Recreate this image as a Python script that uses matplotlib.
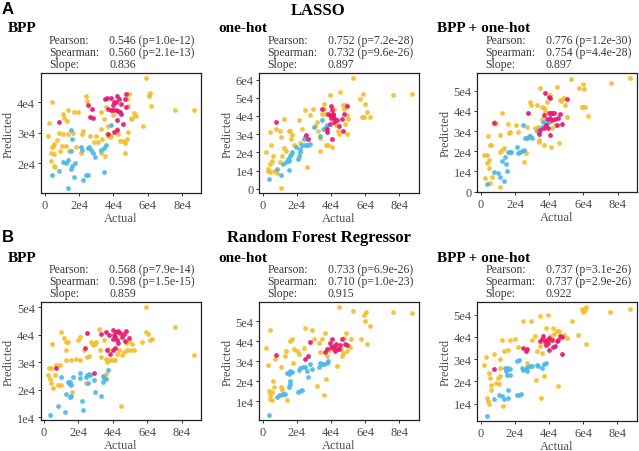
import matplotlib
matplotlib.use("Agg")
import matplotlib.pyplot as plt
from matplotlib.ticker import FuncFormatter, FixedLocator

# ---------------- data (values in units of 1e4) ----------------
# Panel A1: LASSO / BPP
A1_YELLOW = [(0.41,4.02),(0.23,3.34),(0.17,2.9),(0.46,2.57),(0.56,2.63),(0.43,2.52),(0.37,2.35),(0.52,2.3),
             (0.37,2.08),(0.56,1.91),(0.6,1.86),(0.85,3.0),(1.04,3.62),(1.14,3.5),(1.3,3.4),(1.37,3.75),
             (1.33,2.96),(1.04,2.96),(1.0,2.57),(0.9,2.41),(1.24,2.57),(1.43,2.41),(1.62,3.0),(1.68,3.67),
             (1.95,3.67),(2.14,2.96),(2.1,2.35),(2.4,4.2),(2.43,4.05),(2.65,2.9),(2.84,2.7),(2.98,2.9),
             (3.07,2.7),(3.27,3.67),(3.42,3.45),(3.3,3.12),(3.36,2.79),(3.27,2.33),(3.5,2.24),(3.61,2.96),
             (3.67,2.88),(3.78,2.85),(3.85,2.9),(3.69,3.23),(4.19,3.12),(4.27,2.96),(4.36,2.74),(4.56,2.74),
             (4.66,2.68),(4.68,2.33),(4.77,2.79),(4.85,3.03),(4.9,4.27),(4.77,4.11),(5.1,3.5),(5.29,3.56),
             (5.2,3.65),(5.0,3.45),(4.87,3.89),(5.91,4.79),(6.07,4.2),(6.16,4.3),(6.1,4.23),(6.2,3.87),
             (5.72,3.23),(7.57,3.76),(8.68,3.74),(3.55,3.85),(3.95,3.6),(2.2,3.05),(1.8,2.55),(0.7,2.75)]
A1_BLUE = [(0.4,1.6),(0.85,1.75),(1.05,2.05),(1.25,2.0),(1.35,2.1),(1.5,3.1),(1.6,2.8),(1.6,1.9),
           (1.5,1.8),(1.35,1.2),(1.7,1.55),(1.75,2.0),(1.5,2.4),(2.1,2.55),(2.15,2.45),(2.25,1.45),
           (2.4,1.6),(2.5,1.6),(2.5,2.5),(2.6,2.55),(2.7,2.45),(2.8,2.35),(2.95,2.2),(3.3,2.45),
           (3.45,2.5),(3.55,2.6),(3.45,1.7),(3.85,3.25)]
A1_MAGENTA = [(0.8,3.36),(2.53,3.92),(2.72,3.78),(2.78,3.5),(2.65,3.52),(3.61,4.14),(3.5,4.1),(3.85,4.15),
              (4.23,4.21),(4.3,4.1),(4.04,4.0),(3.69,3.78),(3.85,3.75),(4.0,3.76),(4.12,3.75),(4.25,3.72),
              (4.4,3.7),(4.15,4.0),(4.72,4.27),(4.66,4.11),(4.75,3.84),(4.46,3.62),(4.19,3.43),(4.23,3.1),
              (4.04,3.03),(3.69,2.96),(4.54,3.29),(3.95,3.9),(4.45,3.95)]

# Panel A2: LASSO / one-hot
A2_YELLOW = [(0.21,2.01),(0.41,1.36),(0.45,0.9),(0.29,1.09),(0.49,2.38),(0.41,3.11),(0.6,1.82),(0.64,0.96),
             (0.84,0.87),(0.8,3.3),(0.99,3.2),(1.09,2.84),(1.07,0.07),(1.23,3.85),(1.26,2.23),(1.13,1.82),
             (1.38,2.1),(1.52,3.2),(1.61,3.2),(1.71,2.93),(1.67,2.71),(1.85,2.38),(2.1,3.76),(2.16,2.52),
             (2.49,4.31),(2.59,1.18),(2.78,4.03),(2.94,4.4),(3.17,3.66),(3.07,3.43),(3.21,3.15),(3.33,2.78),
             (3.37,2.1),(3.46,4.13),(3.56,4.68),(3.6,4.4),(3.66,4.13),(3.72,2.38),(3.85,2.38),(3.95,5.14),
             (4.07,2.28),(4.18,4.4),(4.38,3.2),(4.44,3.02),(4.53,5.29),(4.67,4.59),(4.77,4.4),(4.88,4.59),
             (4.92,4.03),(5.02,3.85),(4.96,3.02),(4.82,3.57),(5.27,6.06),(5.7,4.95),(5.8,3.94),(5.89,5.23),
             (5.99,4.68),(6.09,4.22),(5.93,3.94),(6.25,3.94),(7.61,5.14),(8.72,5.23),(0.55,1.55),(1.0,1.5),
             (3.5,3.3),(4.3,3.5),(2.3,3.3),(0.3,1.0)]
A2_BLUE = [(0.35,0.53),(0.84,1.09),(1.07,0.77),(1.19,1.36),(1.38,1.45),(1.46,1.64),(1.56,1.51),(1.61,1.82),
           (1.71,2.04),(1.67,1.92),(1.52,1.05),(2.04,1.64),(2.1,1.82),(2.16,2.19),(2.3,2.38),(2.39,2.74),
           (2.49,2.84),(2.59,2.41),(2.68,2.41),(2.78,2.47),(2.49,2.38),(2.98,3.39),(3.37,2.89),(3.56,3.26),
           (3.72,3.39),(3.79,3.52),(3.48,3.76),(2.2,2.0),(1.96,2.28)]
A2_MAGENTA = [(0.76,3.66),(2.53,2.93),(2.63,2.74),(3.46,4.4),(3.99,4.53),(4.05,4.31),(3.91,4.03),(4.01,3.89),
              (4.14,4.13),(4.24,3.85),(4.34,3.76),(4.18,3.66),(3.95,3.57),(3.79,3.3),(4.05,2.74),(4.44,3.44),
              (4.63,3.85),(4.73,4.13),(4.69,3.15),(4.96,4.55),(3.85,4.13),(4.1,4.07),(3.75,3.11),(4.1,3.95)]

# Panel A3: LASSO / BPP + one-hot
A3_YELLOW = [(0.21,1.82),(0.27,0.69),(0.37,1.82),(0.47,1.57),(0.37,1.4),(0.51,1.19),(0.66,0.74),(0.56,0.41),
             (0.43,2.76),(0.53,2.31),(0.6,2.31),(0.76,3.47),(1.11,0.25),(1.15,2.81),(1.15,1.98),(1.25,2.06),
             (1.25,3.88),(1.34,2.15),(1.58,3.33),(1.63,2.89),(1.73,2.97),(2.16,2.97),(2.55,1.49),(2.67,1.9),
             (2.7,3.22),(2.8,2.77),(2.9,4.46),(2.94,4.29),(3.19,3.14),(3.29,4.29),(3.33,3.22),(3.39,2.56),
             (3.4,2.48),(3.48,5.12),(3.58,4.21),(3.68,4.16),(3.72,2.31),(3.87,4.46),(4.03,4.79),(4.1,2.23),
             (4.16,3.14),(4.46,5.2),(4.55,2.39),(4.61,4.54),(4.69,4.49),(4.8,4.59),(4.88,4.65),(4.94,4.29),
             (5.04,3.71),(5.27,5.56),(5.72,5.12),(5.97,5.31),(6.05,5.08),(5.91,4.21),(6.11,4.21),(6.0,4.2),
             (6.25,3.75),(7.61,5.36),(8.7,5.61),(3.75,4.0),(3.6,3.6),(4.35,3.3),(0.9,3.4),(2.05,3.3)]
A3_BLUE = [(0.37,0.36),(0.8,0.99),(0.99,0.91),(1.11,0.74),(1.34,0.53),(1.25,1.52),(1.44,1.73),(1.5,1.35),
           (1.54,1.02),(1.58,1.98),(1.69,1.95),(1.77,1.95),(2.12,2.23),(2.16,1.9),(2.32,1.95),(2.41,2.01),
           (2.51,2.06),(2.61,2.64),(2.47,3.3),(2.7,2.64),(2.8,2.72),(2.9,2.76),(2.99,2.64),(3.29,3.0),
           (3.39,2.94),(3.64,3.43),(3.58,3.22),(3.83,3.33),(3.97,3.43)]
A3_MAGENTA = [(0.76,3.42),(2.74,3.88),(3.39,2.84),(3.48,3.05),(3.68,3.8),(3.77,4.87),(3.97,4.7),(4.07,4.62),
              (3.97,3.88),(4.1,3.88),(4.16,3.88),(4.26,3.88),(4.03,3.63),(4.16,3.55),(4.36,3.6),(4.49,3.63),
              (3.87,3.6),(3.83,3.3),(3.72,3.14),(4.03,2.81),(3.91,3.14),(4.46,3.3),(4.65,3.83),(4.75,3.33),
              (5.04,4.59)]

# Panel B1: Random Forest / BPP
B1_YELLOW = [(0.23,2.54),(0.29,2.78),(0.43,2.78),(0.47,3.68),(0.37,2.38),(0.43,2.26),(0.52,2.06),(0.66,2.54),
             (0.82,2.18),(1.01,2.18),(0.91,2.9),(1.01,4.1),(1.26,3.74),(1.4,3.74),(1.3,3.44),(1.26,3.08),
             (1.59,3.08),(1.88,3.14),(1.65,1.94),(1.98,3.82),(2.08,3.92),(2.08,3.08),(2.47,2.24),(2.5,3.2),
             (2.62,3.22),(2.76,3.74),(2.82,3.62),(2.95,3.68),(3.05,3.75),(3.2,4.22),(3.24,3.46),(3.34,3.2),
             (3.48,3.8),(3.59,3.14),(3.63,3.02),(3.59,2.57),(3.83,3.08),(4.02,3.08),(4.12,3.08),(4.21,3.3),
             (4.37,3.46),(4.5,3.26),(4.65,3.38),(4.8,3.44),(4.99,3.44),(5.09,3.68),(5.24,3.44),(4.45,1.42),
             (5.67,3.74),(5.9,5.0),(5.92,4.1),(6.06,4.04),(6.16,3.82),(6.25,3.86),(7.61,4.3),(8.68,3.28),
             (4.75,3.72),(4.95,3.78),(1.15,3.9),(0.7,2.9),(3.7,3.5),(2.3,3.45)]
B1_BLUE = [(0.33,1.1),(0.82,1.4),(1.2,1.18),(1.3,1.85),(1.01,2.48),(1.4,2.3),(1.46,2.24),(1.5,2.3),
           (1.53,2.21),(1.59,2.18),(1.69,2.48),(1.5,1.73),(1.59,1.76),(2.08,2.6),(2.12,2.45),(2.23,1.58),
           (2.27,1.28),(2.43,2.48),(2.5,2.54),(2.62,2.57),(2.7,2.55),(2.56,2.26),(2.89,2.36),(2.95,1.94),
           (3.34,1.76),(3.44,2.3),(3.48,2.45),(3.58,2.4),(3.73,2.72),(3.44,2.5)]
B1_MAGENTA = [(0.72,2.81),(2.52,4.08),(2.37,3.53),(2.89,2.62),(3.34,4.04),(3.6,4.1),(3.79,3.98),(3.98,4.16),
              (4.17,4.1),(4.31,4.13),(4.02,3.86),(4.1,3.92),(4.21,3.8),(4.41,4.06),(4.5,3.92),(4.64,4.04),
              (4.76,4.14),(4.7,3.77),(4.95,3.88),(3.63,3.44),(3.83,3.32),(3.98,3.46),(4.12,3.53),(4.31,3.7),
              (4.06,4.0)]

# Panel B2: Random Forest / one-hot
B2_YELLOW = [(0.21,3.68),(0.29,2.81),(0.45,4.54),(0.35,1.54),(0.41,1.3),(0.45,1.14),(0.54,1.05),(0.6,2.0),
             (0.68,1.71),(0.74,3.11),(0.93,1.3),(1.07,1.71),(1.12,1.55),(1.07,2.7),(1.32,3.27),(1.42,1.05),
             (1.38,3.52),(1.58,4.01),(1.71,4.09),(1.77,2.94),(2.0,3.52),(2.1,3.35),(2.49,4.67),(2.39,3.68),
             (2.88,4.54),(2.98,4.09),(3.17,1.79),(3.37,3.44),(3.46,4.09),(3.66,4.42),(3.56,1.3),(3.72,2.12),
             (3.79,3.27),(3.9,3.55),(4.49,5.69),(4.34,2.78),(4.63,3.27),(4.7,3.42),(4.73,4.18),(4.88,4.42),
             (4.92,3.52),(5.08,3.72),(5.16,4.09),(5.27,5.53),(5.74,4.09),(5.93,5.33),(5.99,5.0),(6.05,5.46),
             (6.09,3.85),(6.25,4.75),(7.61,5.46),(8.72,5.41),(4.6,3.6),(3.3,3.9),(1.85,3.6),(0.55,1.45)]
B2_BLUE = [(0.35,0.34),(0.84,1.21),(1.03,1.3),(1.19,1.38),(1.32,1.38),(1.52,1.71),(1.58,1.87),(1.61,2.04),
           (1.52,2.37),(1.61,2.53),(1.45,2.4),(1.71,2.45),(2.04,1.46),(2.2,1.54),(2.3,1.59),(2.1,2.56),
           (2.2,2.66),(2.35,2.7),(2.49,2.73),(2.59,2.53),(2.63,2.2),(2.78,2.86),(2.88,2.61),(3.27,2.7),
           (3.37,2.94),(3.46,2.89),(3.56,2.86),(3.75,2.94),(3.85,3.02)]
B2_MAGENTA = [(0.8,3.3),(2.49,3.11),(2.63,3.27),(2.74,3.98),(3.75,3.6),(3.95,3.93),(4.05,4.09),(4.1,3.68),
              (4.18,3.77),(4.3,3.85),(4.44,3.6),(4.22,3.49),(4.53,3.81),(4.63,4.09),(4.82,3.85),(4.96,3.81),
              (3.66,3.44),(4.35,3.62),(3.98,3.7)]

# Panel B3: Random Forest / BPP + one-hot
B3_YELLOW = [(0.21,2.75),(0.33,3.08),(0.37,1.25),(0.43,1.13),(0.47,0.96),(0.47,2.38),(0.56,2.15),(0.6,1.85),
             (0.6,1.63),(0.76,3.23),(0.91,1.93),(1.05,1.88),(0.99,2.15),(1.11,3.02),(1.11,2.23),(1.25,3.88),
             (1.3,0.88),(1.34,3.35),(1.58,3.43),(1.73,3.88),(2.02,3.92),(2.16,3.53),(2.51,4.7),(2.74,2.83),
             (2.94,4.7),(2.99,3.88),(3.19,4.03),(3.25,2.08),(3.33,3.35),(3.48,4.93),(3.52,1.25),(3.58,3.28),
             (3.72,2.23),(3.83,4.4),(3.97,5.0),(4.26,4.4),(4.46,4.28),(4.55,1.78),(4.61,4.25),(4.88,4.1),
             (5.04,3.95),(5.33,4.7),(5.72,4.1),(5.97,5.27),(6.01,5.12),(6.11,5.22),(6.2,5.33),(6.15,3.68),
             (7.61,5.12),(8.74,5.27),(3.75,3.75),(3.85,3.85),(4.08,3.85),(4.2,3.9),(4.05,4.05),(4.3,4.15),
             (1.12,2.6),(3.5,3.6)]
B3_BLUE = [(0.37,0.46),(0.8,1.22),(1.05,1.4),(1.25,1.33),(1.38,1.22),(1.58,1.25),(1.58,1.6),(1.44,2.6),
           (1.5,2.45),(1.63,2.6),(1.73,2.57),(1.69,2.3),(1.54,2.3),(2.12,1.37),(2.22,1.4),(2.35,1.43),
           (2.12,2.9),(2.22,2.98),(2.41,2.6),(2.51,2.53),(2.67,2.57),(2.74,2.45),(2.74,2.63),(2.9,2.68),
           (2.99,2.68),(3.29,2.75),(3.39,2.68),(3.58,2.6),(3.72,2.78),(3.83,2.83)]
B3_MAGENTA = [(0.8,2.57),(2.51,3.5),(2.67,3.38),(2.74,3.47),(3.45,3.8),(3.58,3.9),(3.68,4.03),(3.77,3.8),
              (3.91,3.88),(4.03,3.95),(4.16,3.88),(3.97,3.73),(4.22,3.53),(4.36,3.58),(4.46,3.8),(4.55,3.88),
              (4.65,4.03),(4.75,3.98),(4.75,3.23),(4.03,3.43),(3.85,3.65)]

# tick positions (1e4 units)
X_TICKS = [0, 2, 4, 6, 8]
Y_TICKS = {"A1": [2, 3, 4], "A2": [0, 1, 2, 3, 4, 5, 6], "A3": [0, 1, 2, 3, 4, 5],
           "B1": [1, 2, 3, 4, 5], "B2": [1, 2, 3, 4, 5], "B3": [1, 2, 3, 4, 5]}

TITLES = {"A1": "BPP", "A2": "one-hot", "A3": "BPP + one-hot",
          "B1": "BPP", "B2": "one-hot", "B3": "BPP + one-hot"}
PEARSON = {"A1": "0.546 (p=1.0e-12)", "A2": "0.752 (p=7.2e-28)", "A3": "0.776 (p=1.2e-30)",
           "B1": "0.568 (p=7.9e-14)", "B2": "0.733 (p=6.9e-26)", "B3": "0.737 (p=3.1e-26)"}
SPEARMAN = {"A1": "0.560 (p=2.1e-13)", "A2": "0.732 (p=9.6e-26)", "A3": "0.754 (p=4.4e-28)",
            "B1": "0.598 (p=1.5e-15)", "B2": "0.710 (p=1.0e-23)", "B3": "0.737 (p=2.9e-26)"}
SLOPE = {"A1": "0.836", "A2": "0.897", "A3": "0.897",
         "B1": "0.859", "B2": "0.915", "B3": "0.922"}

DATA = {"A1": (A1_YELLOW, A1_BLUE, A1_MAGENTA), "A2": (A2_YELLOW, A2_BLUE, A2_MAGENTA),
        "A3": (A3_YELLOW, A3_BLUE, A3_MAGENTA), "B1": (B1_YELLOW, B1_BLUE, B1_MAGENTA),
        "B2": (B2_YELLOW, B2_BLUE, B2_MAGENTA), "B3": (B3_YELLOW, B3_BLUE, B3_MAGENTA)}

# ---------------- style / layout ----------------
W, H = 639, 452
COLORS = ["#F5BE2B", "#4CB9E9", "#E8196F"]
SERIF = ["Liberation Serif", "DejaVu Serif"]
plt.rcParams["font.family"] = SERIF

fig = plt.figure(figsize=(W / 100, H / 100), dpi=100)

def fx(px):
    return px / W

def fy(py):
    return 1 - py / H

# axes boxes in pixels: left, right, top, bottom
BOXES = {"A1": (40.5, 201, 74, 194), "A2": (259, 419, 74, 194), "A3": (477, 637, 74, 193),
         "B1": (40.5, 201, 303, 421), "B2": (259, 419, 303, 421), "B3": (477, 637, 303, 422)}
TITLE_X = {"1": 8, "2": 218, "3": 437}

def fmt(v, pos):
    v = int(round(v))
    return "0" if v == 0 else f"{v}e4"

for key, (l, r, t, b) in BOXES.items():
    ax = fig.add_axes([fx(l), fy(b), fx(r - l), (b - t) / H])
    for pts, c in zip(DATA[key], COLORS):
        xs = [p[0] for p in pts]
        ys = [p[1] for p in pts]
        ax.scatter(xs, ys, s=12, color=c, alpha=0.92, linewidths=0, zorder=3)
    ax.margins(0.05)
    ax.xaxis.set_major_locator(FixedLocator(X_TICKS))
    ax.yaxis.set_major_locator(FixedLocator(Y_TICKS[key]))
    ax.xaxis.set_major_formatter(FuncFormatter(fmt))
    ax.yaxis.set_major_formatter(FuncFormatter(fmt))
    ax.tick_params(axis="both", direction="out", length=2.5, width=0.7, color="#333333",
                   labelsize=9, labelcolor="#4d4d4d", pad=1.5)
    for sp in ax.spines.values():
        sp.set_linewidth(0.9)
        sp.set_color("#222222")
    ax.set_xlabel("Actual", fontsize=9, color="#4d4d4d", labelpad=1)
    ax.set_ylabel("Predicted", fontsize=9, color="#4d4d4d", labelpad=1.5)

    # subtitle and statistics
    col = key[1]
    tx = TITLE_X[col]
    fig.text(fx(tx), fy(t - 45), TITLES[key], fontsize=11, fontweight="bold",
             ha="left", va="center", color="black")
    lab_x = l + 8.5
    val_x = l + 68.5
    for i, (lab, val) in enumerate([("Pearson:", PEARSON[key]), ("Spearman:", SPEARMAN[key]),
                                    ("Slope:", SLOPE[key])]):
        yy = t - 33 + i * 11.8
        fig.text(fx(lab_x), fy(yy), lab, fontsize=8.5, ha="left", va="center", color="#3a3a3a")
        fig.text(fx(val_x), fy(yy), val, fontsize=8.5, ha="left", va="center", color="#3a3a3a")

fig.text(fx(318), fy(11), "LASSO", fontsize=12, fontweight="bold", ha="center", va="center")
fig.text(fx(319), fy(238), "Random Forest Regressor", fontsize=12, fontweight="bold",
         ha="center", va="center")
fig.text(fx(2), fy(9), "A", fontsize=12, fontweight="bold", family=["Liberation Sans", "DejaVu Sans"],
         ha="left", va="center")
fig.text(fx(2), fy(238), "B", fontsize=12, fontweight="bold", family=["Liberation Sans", "DejaVu Sans"],
         ha="left", va="center")

fig.savefig("out.png", dpi=100)
